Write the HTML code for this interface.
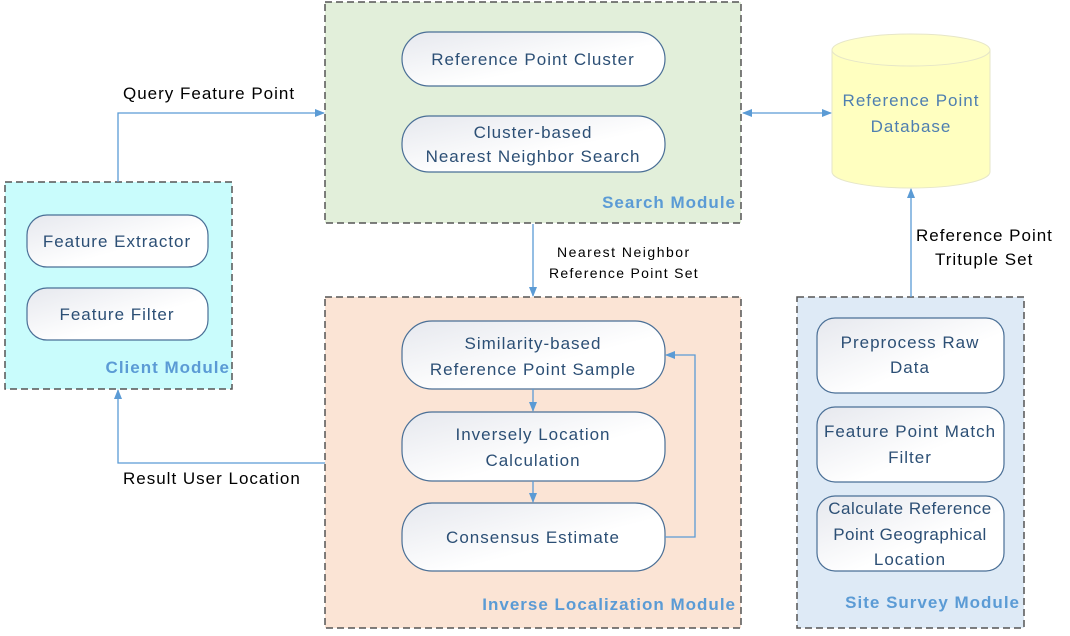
<!DOCTYPE html>
<html><head><meta charset="utf-8"><style>
html,body{margin:0;padding:0;background:#fff;width:1070px;height:636px;overflow:hidden}
svg text{font-family:"Liberation Sans",sans-serif;letter-spacing:1px}
.bt{fill:#2c4f75;font-size:17px;text-anchor:middle}
.mt{fill:#5b9bd5;font-size:17px;font-weight:bold;text-anchor:end}
.lt{fill:#000;font-size:17px}
.mod{stroke:#555;stroke-width:1.5;stroke-dasharray:7,4}
.bx{fill:url(#g);stroke:#4a6f96;stroke-width:1.2}
.ln{stroke:#5b9bd5;stroke-width:1.3;fill:none}
</style></head><body>
<svg width="1070" height="636" viewBox="0 0 1070 636">
<defs>
<linearGradient id="g" x1="0" y1="0" x2="1" y2="1"><stop offset="0" stop-color="#e6e8ee"/><stop offset="0.6" stop-color="#fff"/></linearGradient>
<marker id="a" markerWidth="10" markerHeight="10" refX="9" refY="5" orient="auto" markerUnits="userSpaceOnUse"><path d="M0,1 L10,5 L0,9 z" fill="#5b9bd5"/></marker>
<marker id="b" markerWidth="10" markerHeight="10" refX="1" refY="5" orient="auto" markerUnits="userSpaceOnUse"><path d="M10,1 L0,5 L10,9 z" fill="#5b9bd5"/></marker>
</defs>
<rect x="325" y="2" width="416" height="221" fill="#e2efda" class="mod"/>
<rect x="5" y="182" width="227" height="207" fill="#c9fcfc" class="mod"/>
<rect x="325" y="297" width="416" height="331" fill="#fbe4d5" class="mod"/>
<rect x="797" y="297" width="227" height="331" fill="#deeaf6" class="mod"/>
<rect x="402" y="32" width="263" height="54" rx="27" class="bx"/>
<text x="533" y="65" class="bt">Reference Point Cluster</text>
<rect x="402" y="116" width="263" height="56" rx="27" class="bx"/>
<text x="533" y="138" class="bt">Cluster-based</text>
<text x="533" y="162" class="bt">Nearest Neighbor Search</text>
<text x="736" y="208" class="mt">Search Module</text>
<rect x="27" y="215" width="181" height="52" rx="20" class="bx"/>
<text x="117" y="247" class="bt">Feature Extractor</text>
<rect x="27" y="288" width="181" height="52" rx="20" class="bx"/>
<text x="117" y="320" class="bt">Feature Filter</text>
<text x="230" y="373" class="mt">Client Module</text>
<rect x="402" y="321" width="263" height="68" rx="30" class="bx"/>
<text x="533" y="349" class="bt">Similarity-based</text>
<text x="533" y="375" class="bt">Reference Point Sample</text>
<rect x="402" y="412" width="263" height="69" rx="30" class="bx"/>
<text x="533" y="440" class="bt">Inversely Location</text>
<text x="533" y="466" class="bt">Calculation</text>
<rect x="402" y="503" width="263" height="68" rx="30" class="bx"/>
<text x="533" y="543" class="bt">Consensus Estimate</text>
<text x="736" y="610" class="mt">Inverse Localization Module</text>
<rect x="817" y="318" width="187" height="75" rx="18" class="bx"/>
<text x="910" y="348" class="bt">Preprocess Raw</text>
<text x="910" y="373" class="bt">Data</text>
<rect x="817" y="407" width="187" height="75" rx="18" class="bx"/>
<text x="910" y="437" class="bt">Feature Point Match</text>
<text x="910" y="463" class="bt">Filter</text>
<rect x="817" y="496" width="187" height="75" rx="18" class="bx"/>
<text x="910" y="514" class="bt" style="letter-spacing:0.5px">Calculate Reference</text>
<text x="910" y="540" class="bt" style="letter-spacing:0.5px">Point Geographical</text>
<text x="910" y="565" class="bt">Location</text>
<text x="1020" y="608" class="mt">Site Survey Module</text>
<path d="M832,50 L832,172 A79,16 0 0 0 990,172 L990,50" fill="#ffffc0" stroke="#e6e6c8"/>
<ellipse cx="911" cy="50" rx="79" ry="16" fill="#ffffc8" stroke="#e6e6c8"/>
<text x="911" y="106" class="bt" style="fill:#4f7fb0">Reference Point</text>
<text x="911" y="132" class="bt" style="fill:#4f7fb0">Database</text>
<path d="M118,182 L118,113 L324,113" class="ln" marker-end="url(#a)"/>
<text x="123" y="99" class="lt">Query Feature Point</text>
<path d="M743,113 L831,113" class="ln" marker-start="url(#b)" marker-end="url(#a)"/>
<path d="M533,224 L533,296" class="ln" marker-end="url(#a)"/>
<text x="557" y="257" class="lt" style="font-size:14px;letter-spacing:1.5px">Nearest Neighbor</text>
<text x="549" y="278" class="lt" style="font-size:14px;letter-spacing:1.3px">Reference Point Set</text>
<path d="M325,463 L118,463 L118,390" class="ln" marker-end="url(#a)"/>
<text x="123" y="484" class="lt">Result User Location</text>
<path d="M911,297 L911,189" class="ln" marker-end="url(#a)"/>
<text x="916" y="241" class="lt">Reference Point</text>
<text x="935" y="265" class="lt">Trituple Set</text>
<path d="M665,537 L695,537 L695,355 L666,355" class="ln" marker-end="url(#a)"/>
<path d="M533,389 L533,411" class="ln" marker-end="url(#a)"/>
<path d="M533,481 L533,502" class="ln" marker-end="url(#a)"/>
</svg>
</body></html>
